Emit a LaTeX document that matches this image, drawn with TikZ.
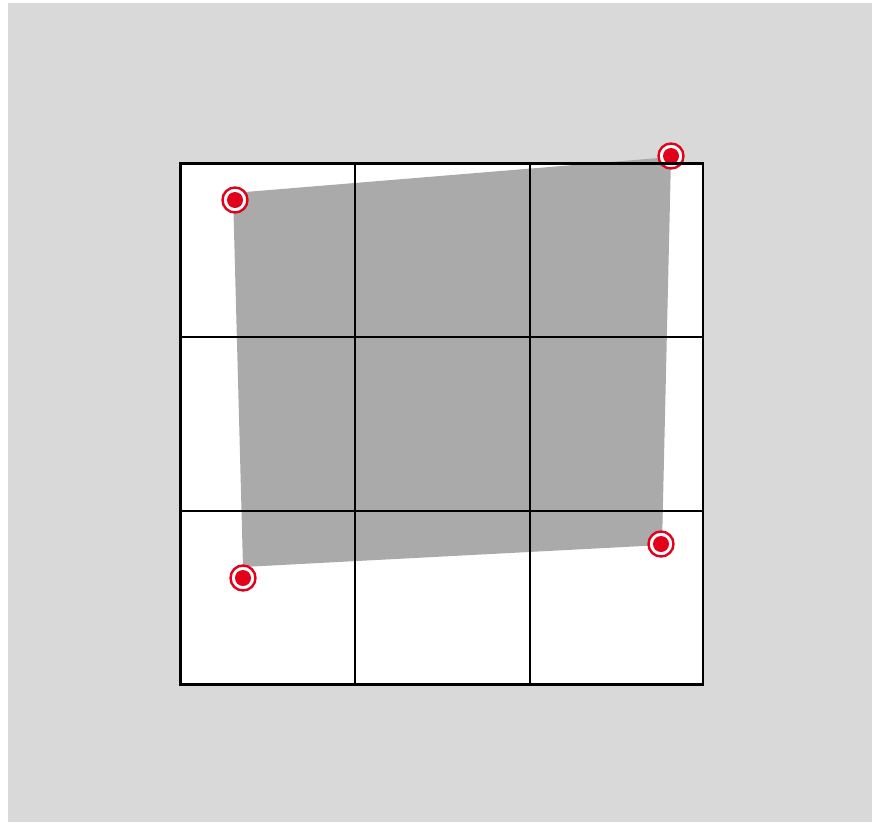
\documentclass[tikz,border=0pt]{standalone}
\usetikzlibrary{calc}
\definecolor{bggray}{HTML}{D9D9D9}
\definecolor{quadgray}{HTML}{AAAAAA}
\definecolor{mkred}{HTML}{E2001A}
\tikzset{
  gridline/.style={line width=2.5pt, draw=black},
  marker/.style={circle, fill=white, draw=mkred, line width=2.4pt, minimum size=25pt, inner sep=0pt,
    path picture={\fill[mkred] (path picture bounding box.center) circle (8pt);}},
}
\begin{document}
\begin{tikzpicture}[x=1pt,y=-1pt]
\useasboundingbox (0,0) rectangle (872,822);
\fill[white] (0,0) rectangle (872,822);
\fill[bggray] (8,3) rectangle (872,822);
% board
\coordinate (g00) at (180.5,163.5);
\coordinate (g11) at (703,684.5);
\fill[white] (g00) rectangle (g11);
% distorted quad
\coordinate (q1) at (233,193);
\coordinate (q2) at (671,157);
\coordinate (q3) at (662,545);
\coordinate (q4) at (243,567);
\fill[quadgray] (q1) -- (q2) -- (q3) -- (q4) -- cycle;
% markers
\node[marker] (m1) at (235,200) {};
\node[marker] (m2) at (671,156) {};
\node[marker] (m3) at (661,544) {};
\node[marker] (m4) at (243,578) {};
% grid
\draw[gridline] (g00) rectangle (g11);
\draw[gridline] (355,163.5) -- (355,684.5);
\draw[gridline] (530,163.5) -- (530,684.5);
\draw[gridline] (180.5,337) -- (703,337);
\draw[gridline] (180.5,511) -- (703,511);
\end{tikzpicture}
\end{document}
